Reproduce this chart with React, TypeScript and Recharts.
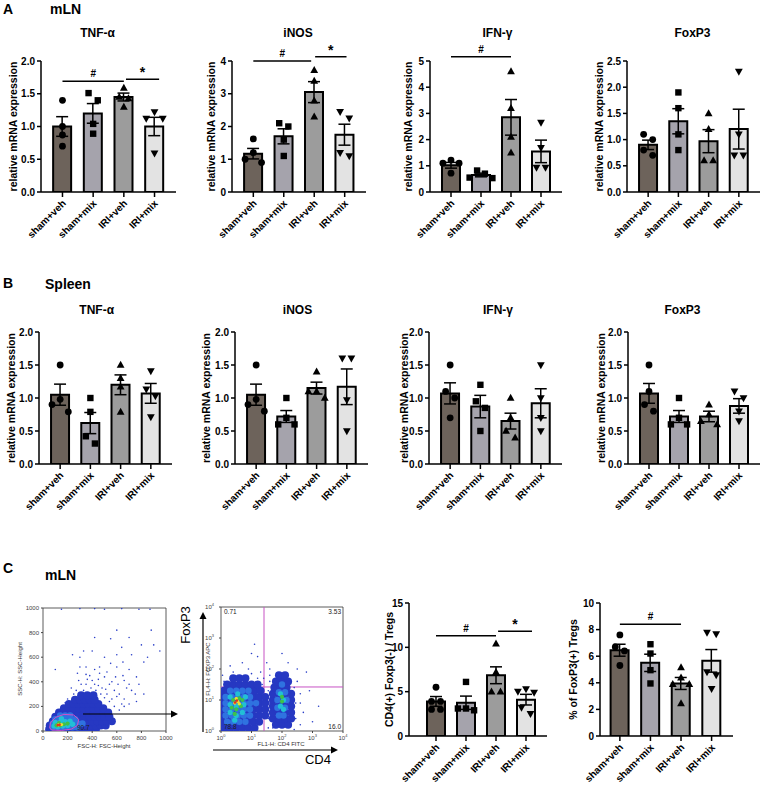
import React from 'react';
import {
  ComposedChart, ScatterChart, Bar, Cell, ErrorBar, Scatter, XAxis, YAxis,
  ReferenceLine, ReferenceArea,
} from 'recharts';

const FONT = '"Liberation Sans", Arial, sans-serif';

// ---------- categories & styling ----------
const CATEGORIES = ['sham+veh', 'sham+mix', 'IRI+veh', 'IRI+mix'];
const BAR_COLORS = ['#6d635b', '#a5a3ac', '#9c9c9c', '#e3e3e3'];

// ---------- Panel A (mLN) ----------
const A_TNF_MEAN = [1.0, 1.2, 1.45, 1.0];
const A_TNF_SEM = [0.15, 0.15, 0.06, 0.14];
const A_TNF_PTS = [[1.4, 1.0, 0.87, 0.7], [1.51, 1.4, 1.04, 0.89], [1.59, 1.45, 1.43, 1.3], [1.22, 1.12, 1.12, 0.59]];

const A_INOS_MEAN = [1.17, 1.7, 3.05, 1.75];
const A_INOS_SEM = [0.16, 0.23, 0.32, 0.32];
const A_INOS_PTS = [[1.62, 1.2, 1.0, 0.9], [2.1, 2.0, 1.6, 1.1], [3.72, 3.39, 2.79, 2.3], [2.45, 2.25, 1.2, 1.1]];

const A_IFN_MEAN = [1.02, 0.65, 2.85, 1.55];
const A_IFN_SEM = [0.11, 0.07, 0.68, 0.43];
const A_IFN_PTS = [[1.22, 1.1, 1.1, 0.72], [0.82, 0.7, 0.55, 0.53], [4.6, 3.2, 2.1, 1.5], [2.65, 1.69, 0.93, 0.93]];

const A_FOX_MEAN = [0.9, 1.35, 0.97, 1.2];
const A_FOX_SEM = [0.09, 0.24, 0.22, 0.38];
const A_FOX_PTS = [[1.1, 1.0, 0.8, 0.7], [1.9, 1.6, 1.1, 0.8], [1.5, 1.2, 0.6, 0.6], [2.3, 1.1, 0.7, 0.7]];

// ---------- Panel B (Spleen) ----------
const B_TNF_MEAN = [1.05, 0.62, 1.2, 1.07];
const B_TNF_SEM = [0.16, 0.16, 0.15, 0.15];
const B_TNF_PTS = [[1.5, 0.98, 0.9, 0.79], [1.0, 0.79, 0.42, 0.31], [1.5, 1.3, 1.17, 0.79], [1.41, 1.13, 1.03, 0.71]];

const B_INOS_MEAN = [1.05, 0.72, 1.15, 1.17];
const B_INOS_SEM = [0.16, 0.09, 0.09, 0.27];
const B_INOS_PTS = [[1.5, 0.98, 0.9, 0.8], [1.0, 0.7, 0.6, 0.6], [1.4, 1.1, 1.1, 1.0], [1.6, 1.6, 0.97, 0.5]];

const B_IFN_MEAN = [1.07, 0.87, 0.65, 0.92];
const B_IFN_SEM = [0.16, 0.17, 0.12, 0.22];
const B_IFN_PTS = [[1.5, 1.1, 1.0, 0.7], [1.2, 0.95, 0.85, 0.5], [1.0, 0.7, 0.5, 0.4], [1.5, 1.0, 0.7, 0.5]];

const B_FOX_MEAN = [1.07, 0.72, 0.72, 0.88];
const B_FOX_SEM = [0.15, 0.09, 0.08, 0.11];
const B_FOX_PTS = [[1.5, 1.1, 0.9, 0.8], [1.0, 0.7, 0.6, 0.6], [0.9, 0.75, 0.65, 0.6], [1.1, 1.0, 0.8, 0.65]];

// ---------- Panel C (mLN flow) ----------
const C_CD4_MEAN = [3.9, 3.75, 6.85, 4.1];
const C_CD4_SEM = [0.55, 0.75, 0.95, 0.6];
const C_CD4_PTS = [[5.5, 3.9, 3.9, 3.0, 3.0], [6.1, 3.1, 3.1, 2.9], [10.4, 7.2, 5.0, 5.0], [5.3, 4.9, 5.0, 3.2, 2.5]];

const C_TREG_MEAN = [6.45, 5.5, 3.95, 5.65];
const C_TREG_SEM = [0.45, 0.65, 0.45, 0.85];
const C_TREG_PTS = [[7.6, 6.7, 6.4, 5.3], [6.9, 6.2, 4.95, 3.95], [5.16, 4.38, 3.9, 3.9, 2.44], [7.78, 7.66, 4.81, 4.58, 3.55]];

// ---------- axis ticks ----------
const TICKS_0_2 = [0, 0.5, 1, 1.5, 2];
const TICKS_0_4 = [0, 1, 2, 3, 4];
const TICKS_0_5 = [0, 1, 2, 3, 4, 5];
const TICKS_0_25 = [0, 0.5, 1, 1.5, 2, 2.5];
const TICKS_0_15 = [0, 5, 10, 15];
const TICKS_0_10 = [0, 2, 4, 6, 8, 10];

// ---------- flow cytometry (density) ----------
const FSC_TICKS = [0, 200, 400, 600, 800, 1000];
const FSC_L0 = [
  [50, 15], [70, 15], [110, 15], [150, 15], [190, 15], [230, 15], [270, 15], [310, 15], [350, 15], [390, 15], [430, 15],
  [55, 45], [70, 45], [110, 45], [150, 45], [190, 45], [230, 45], [270, 45], [310, 45], [350, 45], [390, 45], [430, 45], [470, 45], [510, 45],
  [80, 80], [120, 80], [160, 80], [200, 80], [240, 80], [280, 80], [320, 80], [360, 80], [400, 80], [440, 80], [480, 80], [520, 80], [560, 80],
  [100, 115], [140, 115], [180, 115], [220, 115], [260, 115], [300, 115], [340, 115], [380, 115], [420, 115], [460, 115], [500, 115], [540, 115],
  [130, 150], [170, 150], [210, 150], [250, 150], [290, 150], [330, 150], [370, 150], [410, 150], [450, 150], [490, 150], [530, 150],
  [170, 185], [210, 185], [250, 185], [290, 185], [330, 185], [370, 185], [410, 185], [450, 185], [490, 185],
  [210, 220], [250, 220], [290, 220], [330, 220], [370, 220], [410, 220], [450, 220],
  [260, 255], [300, 255], [340, 255], [380, 255], [420, 255], [310, 290], [360, 290], [410, 290]];
const FSC_L1 = [[80, 30], [120, 30], [160, 30], [200, 30], [240, 30], [280, 30], [80, 60], [120, 60], [160, 60], [200, 60], [240, 60], [280, 60], [320, 60],
  [100, 95], [140, 95], [180, 95], [220, 95], [260, 95], [140, 125], [180, 125], [220, 125]];
const FSC_L2 = [[90, 40], [120, 35], [160, 40], [200, 45], [240, 55], [100, 70], [140, 70], [180, 75], [220, 80], [150, 100]];
const FSC_L3 = [[110, 45], [140, 45], [170, 55], [130, 65], [200, 60]];
const FSC_L4 = [[125, 50], [150, 52]];
const FSC_L5 = [[120, 48], [135, 50]];
const FSC_SPARSE = [[450, 420], [520, 480], [600, 520], [650, 450], [700, 380], [750, 300], [800, 700], [900, 700], [850, 600], [620, 300],
  [680, 350], [560, 400], [480, 350], [420, 380], [380, 450], [350, 520], [300, 600], [330, 650], [420, 760], [550, 750], [600, 620],
  [700, 500], [760, 440], [820, 560], [880, 820], [950, 650], [500, 600], [280, 470], [460, 520], [640, 680], [720, 620], [350, 380],
  [290, 410], [520, 300], [580, 330], [660, 260], [700, 220], [760, 240], [820, 300], [230, 350], [240, 620], [400, 650], [100, 500],
  [700, 760], [600, 820], [500, 990], [300, 995], [150, 990], [780, 990], [640, 995], [870, 990], [420, 995], [560, 260], [610, 380],
  [470, 300], [510, 340], [540, 380], [430, 330], [390, 350], [330, 330], [270, 330], [600, 280], [640, 220], [580, 200], [620, 170],
  [660, 200], [540, 240], [500, 270], [450, 370], [400, 410], [360, 420], [310, 380], [250, 300], [200, 260], [180, 230], [590, 440],
  [660, 410], [720, 330], [780, 380], [500, 440], [460, 470], [420, 500], [550, 550], [650, 560], [350, 460], [300, 520]];
const FSC_GATE = [[55, 25], [70, 8], [150, 5], [230, 15], [280, 45], [290, 95], [250, 130], [170, 135], [100, 110], [60, 65], [55, 25]];

const LOG_TICKS = [0, 1, 2, 3, 4];
const CD4_QUAD_X = 1.41;
const CD4_QUAD_Y = 1.42;
const CD4_L0 = [
  [0.1, 0.1], [0.3, 0.1], [0.5, 0.1], [0.7, 0.1], [0.9, 0.1], [1.1, 0.1],
  [0.05, 0.3], [0.25, 0.3], [0.45, 0.3], [0.65, 0.3], [0.85, 0.3], [1.05, 0.3], [1.25, 0.3],
  [0.05, 0.5], [0.25, 0.5], [0.45, 0.5], [0.65, 0.5], [0.85, 0.5], [1.05, 0.5], [1.25, 0.5], [1.45, 0.5],
  [0.05, 0.7], [0.25, 0.7], [0.45, 0.7], [0.65, 0.7], [0.85, 0.7], [1.05, 0.7], [1.25, 0.7], [1.45, 0.7],
  [0.05, 0.9], [0.25, 0.9], [0.45, 0.9], [0.65, 0.9], [0.85, 0.9], [1.05, 0.9], [1.25, 0.9], [1.45, 0.9],
  [0.05, 1.1], [0.25, 1.1], [0.45, 1.1], [0.65, 1.1], [0.85, 1.1], [1.05, 1.1], [1.25, 1.1], [1.45, 1.1],
  [0.1, 1.3], [0.3, 1.3], [0.5, 1.3], [0.7, 1.3], [0.9, 1.3], [1.1, 1.3], [1.3, 1.3],
  [0.2, 1.5], [0.4, 1.5], [0.6, 1.5], [0.8, 1.5], [1.0, 1.5], [1.2, 1.5], [0.4, 1.7], [0.6, 1.7], [0.8, 1.7],
  [1.8, 0.2], [2.0, 0.2], [2.2, 0.2], [1.7, 0.4], [1.9, 0.4], [2.1, 0.4], [2.3, 0.4],
  [1.7, 0.6], [1.9, 0.6], [2.1, 0.6], [2.3, 0.6], [1.7, 0.8], [1.9, 0.8], [2.1, 0.8], [2.3, 0.8],
  [1.7, 1.0], [1.9, 1.0], [2.1, 1.0], [2.3, 1.0], [1.7, 1.2], [1.9, 1.2], [2.1, 1.2], [2.3, 1.2],
  [1.75, 1.4], [1.95, 1.4], [2.15, 1.4], [1.8, 1.6], [2.0, 1.6], [2.2, 1.6], [1.9, 1.8], [2.1, 1.8]];
const CD4_L1 = [[0.2, 0.3], [0.4, 0.3], [0.6, 0.3], [0.8, 0.3],
  [0.15, 0.5], [0.35, 0.5], [0.55, 0.5], [0.75, 0.5], [0.95, 0.5], [0.15, 0.7], [0.35, 0.7], [0.55, 0.7], [0.75, 0.7], [0.95, 0.7],
  [0.15, 0.9], [0.35, 0.9], [0.55, 0.9], [0.75, 0.9], [0.95, 0.9], [1.15, 0.9], [0.15, 1.1], [0.35, 1.1], [0.55, 1.1], [0.75, 1.1], [0.95, 1.1],
  [0.3, 1.3], [0.5, 1.3], [0.7, 1.3], [0.9, 1.3],
  [1.9, 0.5], [2.05, 0.5], [1.85, 0.75], [2.1, 0.75], [1.85, 1.0], [2.15, 1.0], [1.9, 1.25], [2.1, 1.25], [2.0, 1.5]];
const CD4_L2 = [[0.3, 0.6], [0.5, 0.5], [0.7, 0.6], [0.3, 0.85], [0.5, 0.8], [0.75, 0.85], [0.3, 1.1], [0.55, 1.2], [0.8, 1.1], [0.45, 0.35],
  [1.95, 0.8], [2.05, 1.0], [1.95, 1.2], [2.05, 0.7]];
const CD4_L3 = [[0.35, 0.75], [0.5, 0.7], [0.65, 0.8], [0.4, 1.0], [0.6, 1.05], [0.45, 0.55], [0.7, 1.0], [2.0, 0.95], [2.0, 1.1]];
const CD4_L4 = [[0.45, 0.9], [0.55, 0.95], [0.5, 1.05], [0.6, 0.88]];
const CD4_L5 = [[0.52, 0.98], [0.46, 0.92]];
const CD4_SPARSE = [[1.3, 1.9], [1.6, 2.0], [2.5, 1.6], [2.6, 1.2], [2.7, 0.6], [1.5, 2.2], [0.9, 2.0], [2.8, 1.9], [1.2, 2.4], [0.3, 2.1],
  [1.7, 0.1], [2.4, 0.05], [3.0, 0.3], [2.9, 1.3], [1.0, 2.5], [2.2, 2.2], [0.05, 1.8], [2.5, 2.0], [1.4, 1.7], [0.7, 2.2], [2.6, 0.2],
  [3.2, 0.8], [1.1, 2.8], [2.0, 2.5], [0.4, 1.9], [1.6, 1.6], [2.45, 0.9], [1.55, 0.1], [0.2, 0.02], [0.9, 0.02], [1.55, 0.4],
  [1.6, 0.9], [1.55, 1.3], [2.45, 0.4], [2.4, 1.4], [2.6, 0.9], [1.2, 1.7], [1.0, 1.85], [0.1, 1.6], [1.35, 1.5], [1.6, 1.8]];

// ---------- helpers ----------
const DENSITY_COLORS = ['#2638c2', '#2f72e0', '#22bfd6', '#3ec24a', '#e8df30', '#e6311a'];

function jitter(values: number[], thr: number): number[] {
  const order = values.map((_, i) => i).sort((a, b) => values[b] - values[a]);
  const offs = new Array(values.length).fill(0);
  let group: number[] = [];
  const flush = () => {
    const k = group.length;
    const pat = k === 1 ? [0] : k === 2 ? [-0.15, 0.15] : k === 3 ? [0, -0.27, 0.27] : k === 4 ? [-0.13, 0.13, -0.38, 0.38] : [0, -0.25, 0.25, -0.5, 0.5];
    group.forEach((gi, j) => { offs[gi] = pat[j] ?? 0; });
    group = [];
  };
  order.forEach((i) => {
    if (group.length && Math.abs(values[group[group.length - 1]] - values[i]) > thr) flush();
    group.push(i);
  });
  flush();
  return offs;
}

const Marker = (props: any) => {
  const { cx, cy, payload } = props;
  if (cx == null || cy == null) return <g />;
  const g = payload.g;
  if (g === 0) return <circle cx={cx} cy={cy} r={3.4} fill="#000" />;
  if (g === 1) return <rect x={cx - 3.2} y={cy - 3.2} width={6.4} height={6.4} fill="#000" />;
  if (g === 2) return <polygon points={`${cx},${cy - 4.2} ${cx - 3.9},${cy + 2.8} ${cx + 3.9},${cy + 2.8}`} fill="#000" />;
  return <polygon points={`${cx},${cy + 4.2} ${cx - 3.9},${cy - 2.8} ${cx + 3.9},${cy - 2.8}`} fill="#000" />;
};

const XTick = (props: any) => {
  const { x, y, payload } = props;
  const tx = x + 4;
  const ty = y + 5;
  return (
    <text x={tx} y={ty} transform={`rotate(-45, ${tx}, ${ty})`} textAnchor="end" fontSize={10} fontWeight={700} fill="#000" fontFamily={FONT}>
      {CATEGORIES[payload.value]}
    </text>
  );
};

type Sig = { label: string; x1: number; x2: number; y: number };

function BarPanel(p: {
  means: number[]; sems: number[]; points: number[][]; yMax: number; yTicks: number[]; decimals: number;
  yLabel: string; sigs?: Sig[]; left: number; top: number; w: number; h: number; xDomain?: number[]; labelDx: number;
}) {
  const yW = 46; const mTop = 30; const mRight = 6; const xH = 70;
  const dom = p.xDomain ?? [-0.7, 3.7];
  const data = p.means.map((m, i) => ({ x: i, mean: m, sem: p.sems[i] }));
  const thr = (7.5 * p.yMax) / p.h;
  const pts: any[] = [];
  p.points.forEach((arr, g) => {
    const offs = jitter(arr, thr);
    arr.forEach((v, j) => pts.push({ x: g + offs[j], v, g }));
  });
  const labelX = yW + p.labelDx;
  const labelY = mTop + p.h / 2;
  return (
    <div style={{ position: 'absolute', left: p.left - yW, top: p.top - mTop }}>
      <ComposedChart width={yW + p.w + mRight} height={mTop + p.h + xH} data={data} margin={{ top: mTop, right: mRight, bottom: 0, left: 0 }}>
        <XAxis dataKey="x" type="number" domain={dom} ticks={[0, 1, 2, 3]} allowDataOverflow interval={0}
          tick={<XTick />} tickSize={5} tickLine={{ stroke: '#000', strokeWidth: 1.5 }} axisLine={{ stroke: '#000', strokeWidth: 1.5 }} height={xH} />
        <XAxis xAxisId="pts" dataKey="x" type="number" domain={dom} allowDataOverflow hide />
        <YAxis type="number" domain={[0, p.yMax]} ticks={p.yTicks} allowDataOverflow width={yW} interval={0}
          tickFormatter={(v: number) => v.toFixed(p.decimals)}
          tick={{ fill: '#000', fontSize: 10, fontWeight: 700, fontFamily: FONT }} tickSize={4}
          tickLine={{ stroke: '#000', strokeWidth: 1.5 }} axisLine={{ stroke: '#000', strokeWidth: 1.5 }}
          label={{
            content: () => (
              <text x={labelX} y={labelY} transform={`rotate(-90, ${labelX}, ${labelY})`} textAnchor="middle" dominantBaseline="central"
                fontSize={10.5} fontWeight={700} fill="#000" fontFamily={FONT}>{p.yLabel}</text>
            ),
          }} />
        <Bar dataKey="mean" barSize={18} stroke="#000" strokeWidth={2} isAnimationActive={false}>
          {data.map((_, i) => <Cell key={i} fill={BAR_COLORS[i]} />)}
          <ErrorBar dataKey="sem" width={6} stroke="#000" strokeWidth={1.5} />
        </Bar>
        <Scatter xAxisId="pts" data={pts} dataKey="v" shape={Marker} isAnimationActive={false} />
        {(p.sigs ?? []).map((s, i) => (
          <ReferenceLine key={i} segment={[{ x: s.x1, y: s.y }, { x: s.x2, y: s.y }]} stroke="#000" strokeWidth={1.5} ifOverflow="visible"
            label={{ value: s.label, position: 'top', offset: s.label === '*' ? 2 : 4, fill: '#000', fontSize: s.label === '*' ? 14 : 10, fontWeight: 700, fontFamily: FONT }} />
        ))}
      </ComposedChart>
    </div>
  );
}

const toPts = (arr: number[][]) => arr.map(([x, y]) => ({ x, y }));

const blobShape = (r: number, color: string, opacity = 1) => (props: any) =>
  props.cx == null ? <g /> : <circle cx={props.cx} cy={props.cy} r={r} fill={color} fillOpacity={opacity} />;

const noShape = () => <g />;

const smallTick = (props: any) => {
  const { x, y, payload, textAnchor } = props;
  return <text x={x} y={y} dy={textAnchor === 'end' ? 2 : 5} textAnchor={textAnchor} fontSize={6} fill="#444" fontFamily={FONT}>{payload.value}</text>;
};

const LogTickX = (props: any) => {
  const { x, y, payload } = props;
  return <text x={x} y={y + 5} textAnchor="middle" fontSize={6} fill="#444" fontFamily={FONT}>10<tspan dy={-3} fontSize={4}>{payload.value}</tspan></text>;
};
const LogTickY = (props: any) => {
  const { x, y, payload } = props;
  return <text x={x - 3} y={y + 2} textAnchor="end" fontSize={6} fill="#444" fontFamily={FONT}>10<tspan dy={-3} fontSize={4}>{payload.value}</tspan></text>;
};

function FlowFSC() {
  const levels = [FSC_L0, FSC_L1, FSC_L2, FSC_L3, FSC_L4, FSC_L5];
  const radii = [4, 3.3, 2.7, 2.1, 1.7, 1.3];
  return (
    <div style={{ position: 'absolute', left: 18, top: 604 }}>
      <ScatterChart width={160} height={147} margin={{ top: 4, right: 12, bottom: 0, left: 0 }}>
        <XAxis type="number" dataKey="x" domain={[0, 1000]} ticks={FSC_TICKS} allowDataOverflow interval={0} tick={smallTick}
          tickSize={2} axisLine={false} tickLine={{ stroke: '#444' }} height={20} />
        <YAxis type="number" dataKey="y" domain={[0, 1000]} ticks={FSC_TICKS} allowDataOverflow interval={0} tick={smallTick}
          tickSize={2} axisLine={false} tickLine={{ stroke: '#444' }} width={25} />
        <Scatter data={toPts(FSC_SPARSE)} shape={blobShape(0.8, '#2a3fc8')} isAnimationActive={false} />
        {levels.map((lv, i) => (
          <Scatter key={i} data={toPts(lv)} shape={blobShape(radii[i], DENSITY_COLORS[i])} isAnimationActive={false} />
        ))}
        <Scatter data={toPts(FSC_GATE)} line={{ stroke: '#d64fc6', strokeWidth: 1 }} shape={noShape} isAnimationActive={false} />
        <ReferenceArea x1={0} x2={1000} y1={0} y2={1000} fill="none" stroke="#333" strokeWidth={0.8} ifOverflow="visible" />
      </ScatterChart>
    </div>
  );
}

function FlowCD4() {
  const levels = [CD4_L0, CD4_L1, CD4_L2, CD4_L3, CD4_L4, CD4_L5];
  const radii = [4, 3.2, 2.6, 2.1, 1.7, 1.3];
  return (
    <div style={{ position: 'absolute', left: 201, top: 603 }}>
      <ScatterChart width={150} height={148} margin={{ top: 4, right: 8, bottom: 0, left: 0 }}>
        <XAxis type="number" dataKey="x" domain={[0, 4]} ticks={LOG_TICKS} allowDataOverflow interval={0} tick={LogTickX}
          tickSize={2} axisLine={false} tickLine={{ stroke: '#444' }} height={20} />
        <YAxis type="number" dataKey="y" domain={[0, 4]} ticks={LOG_TICKS} allowDataOverflow interval={0} tick={LogTickY}
          tickSize={2} axisLine={false} tickLine={{ stroke: '#444' }} width={20} />
        <Scatter data={toPts(CD4_SPARSE)} shape={blobShape(0.8, '#2a3fc8')} isAnimationActive={false} />
        {levels.map((lv, i) => (
          <Scatter key={i} data={toPts(lv)} shape={blobShape(radii[i], DENSITY_COLORS[i])} isAnimationActive={false} />
        ))}
        <ReferenceLine x={CD4_QUAD_X} stroke="#c752c4" strokeWidth={1} />
        <ReferenceLine y={CD4_QUAD_Y} stroke="#c752c4" strokeWidth={1} />
        <ReferenceArea x1={0} x2={4} y1={0} y2={4} fill="none" stroke="#333" strokeWidth={0.8} ifOverflow="visible" />
      </ScatterChart>
    </div>
  );
}

function Overlay() {
  const t = (x: number, y: number, s: string, size: number, bold = true, anchor = 'start', extra: any = {}) => (
    <text x={x} y={y} fontSize={size} fontWeight={bold ? 700 : 400} textAnchor={anchor} fill="#000" fontFamily={FONT} {...extra}>{s}</text>
  );
  return (
    <svg width={767} height={787} style={{ position: 'absolute', left: 0, top: 0, pointerEvents: 'none' }}>
      {t(3, 14, 'A', 14)}
      {t(50, 14, 'mLN', 14)}
      {t(97.5, 37, 'TNF-α', 12, true, 'middle')}
      {t(298, 37, 'iNOS', 12, true, 'middle')}
      {t(497.5, 37, 'IFN-γ', 12, true, 'middle')}
      {t(692.5, 37, 'FoxP3', 12, true, 'middle')}
      {t(3, 288, 'B', 14)}
      {t(45, 289, 'Spleen', 14)}
      {t(96.7, 314, 'TNF-α', 12, true, 'middle')}
      {t(297.5, 314, 'iNOS', 12, true, 'middle')}
      {t(498, 314, 'IFN-γ', 12, true, 'middle')}
      {t(682.5, 314, 'FoxP3', 12, true, 'middle')}
      {t(3, 573, 'C', 14)}
      {t(45, 580, 'mLN', 14)}
      {t(104, 748, 'FSC-H: FSC-Height', 6, false, 'middle', { fill: '#333' })}
      {t(0, 0, 'SSC-H: SSC-Height', 6, false, 'middle', { fill: '#333', transform: 'translate(22,669) rotate(-90)' })}
      {t(77, 730, '90.7', 6.5, false, 'start', { fill: '#222' })}
      {t(281, 746, 'FL1-H: CD4 FITC', 6, false, 'middle', { fill: '#333' })}
      {t(0, 0, 'FL4-H: FOXP3 APC', 6, false, 'middle', { fill: '#333', transform: 'translate(210,669) rotate(-90)' })}
      {t(224, 614, '0.71', 6.5, false, 'start', { fill: '#222' })}
      {t(341, 614, '3.53', 6.5, false, 'end', { fill: '#222' })}
      {t(224, 729, '78.8', 6.5, false, 'start', { fill: '#222' })}
      {t(341, 729, '16.0', 6.5, false, 'end', { fill: '#222' })}
      {t(0, 0, 'FoxP3', 13, false, 'middle', { transform: 'translate(190,625) rotate(-90)' })}
      {t(318, 764, 'CD4', 13, false, 'middle')}
      <line x1={83} y1={714} x2={172} y2={714} stroke="#000" strokeWidth={1.2} />
      <polygon points="171,710.5 178,714 171,717.5" fill="#000" />
      <line x1={203} y1={732} x2={203} y2={618} stroke="#000" strokeWidth={1.2} />
      <polygon points="199.5,619 203,612 206.5,619" fill="#000" />
      <line x1={213} y1={750} x2={332} y2={750} stroke="#000" strokeWidth={1.2} />
      <polygon points="331,746.5 338,750 331,753.5" fill="#000" />
    </svg>
  );
}

const LABEL = 'relative mRNA expression';

export default function App() {
  return (
    <div style={{ position: 'absolute', left: 0, top: 0, width: 767, height: 787, background: '#fff', fontFamily: FONT }}>
      <BarPanel means={A_TNF_MEAN} sems={A_TNF_SEM} points={A_TNF_PTS} yMax={2} yTicks={TICKS_0_2} decimals={1} yLabel={LABEL}
        sigs={[{ label: '#', x1: 0, x2: 2, y: 1.69 }, { label: '*', x1: 2.07, x2: 3.15, y: 1.72 }]}
        left={41} top={61} w={135} h={131} labelDx={-28} />
      <BarPanel means={A_INOS_MEAN} sems={A_INOS_SEM} points={A_INOS_PTS} yMax={4} yTicks={TICKS_0_4} decimals={0} yLabel={LABEL}
        sigs={[{ label: '#', x1: 0, x2: 1.9, y: 4.0 }, { label: '*', x1: 2.03, x2: 3.06, y: 4.13 }]}
        left={232} top={61} w={134} h={131} labelDx={-21} />
      <BarPanel means={A_IFN_MEAN} sems={A_IFN_SEM} points={A_IFN_PTS} yMax={5} yTicks={TICKS_0_5} decimals={0} yLabel={LABEL}
        sigs={[{ label: '#', x1: 0, x2: 2, y: 5.16 }]}
        left={430} top={61} w={132} h={131} labelDx={-22} />
      <BarPanel means={A_FOX_MEAN} sems={A_FOX_SEM} points={A_FOX_PTS} yMax={2.5} yTicks={TICKS_0_25} decimals={1} yLabel={LABEL}
        left={627} top={61} w={133} h={131} labelDx={-28} />

      <BarPanel means={B_TNF_MEAN} sems={B_TNF_SEM} points={B_TNF_PTS} yMax={2} yTicks={TICKS_0_2} decimals={1} yLabel={LABEL}
        left={39} top={332} w={133} h={132} labelDx={-28} />
      <BarPanel means={B_INOS_MEAN} sems={B_INOS_SEM} points={B_INOS_PTS} yMax={2} yTicks={TICKS_0_2} decimals={1} yLabel={LABEL}
        left={235} top={332} w={133} h={132} labelDx={-29} />
      <BarPanel means={B_IFN_MEAN} sems={B_IFN_SEM} points={B_IFN_PTS} yMax={2} yTicks={TICKS_0_2} decimals={1} yLabel={LABEL}
        left={429} top={332} w={133} h={132} labelDx={-25} />
      <BarPanel means={B_FOX_MEAN} sems={B_FOX_SEM} points={B_FOX_PTS} yMax={2} yTicks={TICKS_0_2} decimals={1} yLabel={LABEL}
        left={628} top={332} w={132} h={132} labelDx={-27} />

      <FlowFSC />
      <FlowCD4 />

      <BarPanel means={C_CD4_MEAN} sems={C_CD4_SEM} points={C_CD4_PTS} yMax={15} yTicks={TICKS_0_15} decimals={0} yLabel="CD4(+) Foxp3(-) / Tregs"
        sigs={[{ label: '#', x1: 0, x2: 2, y: 11.3 }, { label: '*', x1: 2.07, x2: 3.2, y: 11.8 }]}
        left={409} top={603} w={138} h={133} xDomain={[-0.9, 3.7]} labelDx={-20} />
      <BarPanel means={C_TREG_MEAN} sems={C_TREG_SEM} points={C_TREG_PTS} yMax={10} yTicks={TICKS_0_10} decimals={0} yLabel="% of FoxP3(+) Tregs"
        sigs={[{ label: '#', x1: 0, x2: 2, y: 8.4 }]}
        left={600} top={603} w={133} h={133} xDomain={[-0.65, 3.7]} labelDx={-27} />

      <Overlay />
    </div>
  );
}
